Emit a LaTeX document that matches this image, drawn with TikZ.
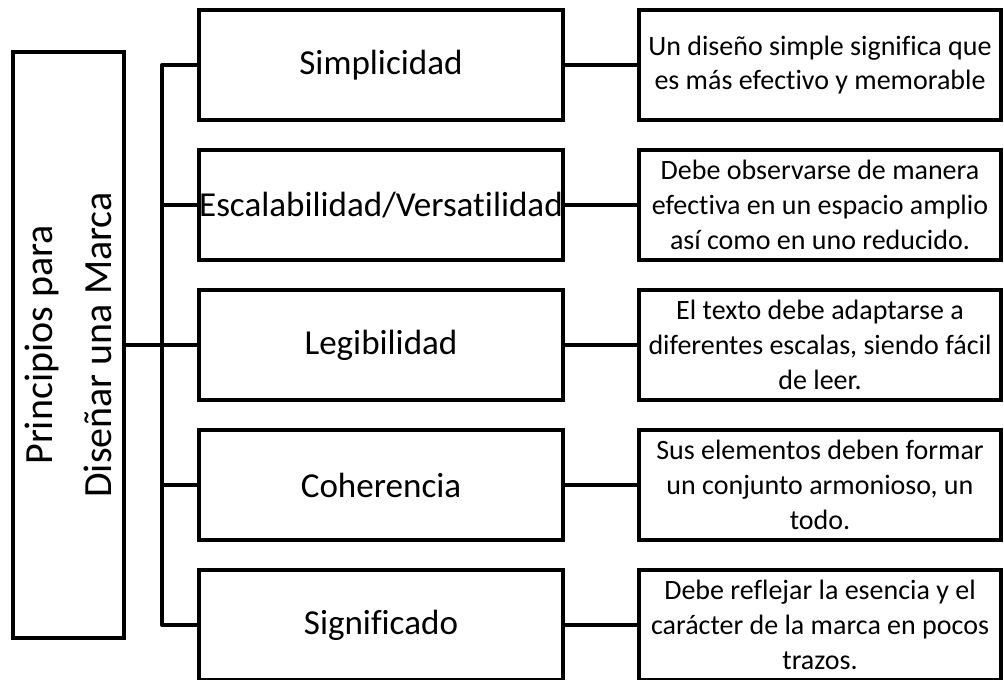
\documentclass[tikz,border=0pt]{standalone}
\usepackage{fontspec}
\setmainfont[Ligatures=NoCommon]{Carlito}
\usetikzlibrary{positioning}

\begin{document}
\begin{tikzpicture}
	[   x=0.75pt,y=-0.75pt,
		box/.style={draw=black,line width=3pt,fill=white,align=center,inner sep=0pt},
		tnode/.style={box,rotate=90,minimum width=439.5pt,minimum height=83.25pt,font=\fontsize{30}{44}\selectfont},
		pnode/.style={box,minimum width=273pt,minimum height=82.5pt,font=\fontsize{26.3}{32}\selectfont},
		dnode/.style={box,minimum width=271.5pt,minimum height=82.5pt,font=\fontsize{21}{26}\selectfont},
	]
	\tikzset{link/.style={draw,line width=3pt,line join=round}}
	\useasboundingbox (0,0) rectangle (1004,679);

	\node[tnode] (t) at (68.5,345) {Principios para\\Diseñar una Marca};

	\node[pnode] (p-1) at (381,65) {Simplicidad};
	\node[pnode] (p-2) at (381,205) {Escalabilidad/Versatilidad};
	\node[pnode] (p-3) at (381,345) {Legibilidad};
	\node[pnode] (p-4) at (381,485) {Coherencia};
	\node[pnode] (p-5) at (381,625) {Significado};

	\node[dnode] (d-1) at (820,65) {Un diseño simple significa que\\es más efectivo y memorable};
	\node[dnode] (d-2) at (820,205) {Debe observarse de manera\\efectiva en un espacio amplio\\así como en uno reducido.};
	\node[dnode] (d-3) at (820,345) {El texto debe adaptarse a\\diferentes escalas, siendo fácil\\de leer.};
	\node[dnode] (d-4) at (820,485) {Sus elementos deben formar\\un conjunto armonioso, un\\todo.};
	\node[dnode] (d-5) at (820,625) {Debe reflejar la esencia y el\\carácter de la marca en pocos\\trazos.};

	% tronco
	\path[link] (p-1.west) -- ++(-35,0) |- (p-5.west);
	\path[link] (t.south) -- (p-3.west);
	\foreach \x in {2,...,4}
	{
		\path[link] (p-\x.west) -- ++(-35,0);
	}

	\foreach \x in {1,...,5}
	{
		\path[link] (p-\x) -- (d-\x);
	}
\end{tikzpicture}
\end{document}
